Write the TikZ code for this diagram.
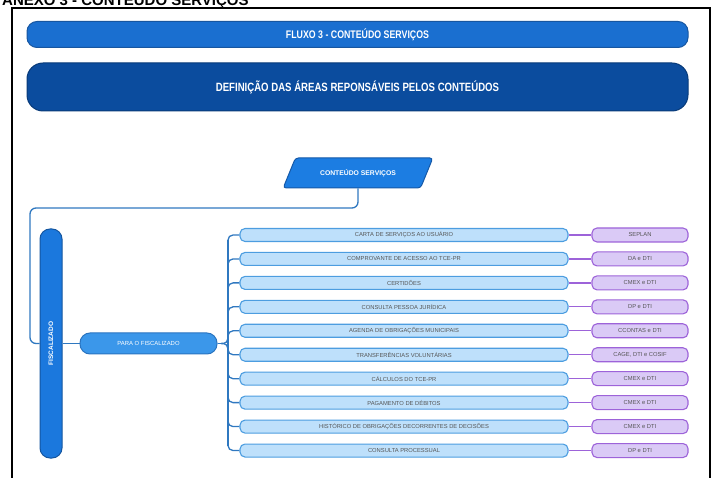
\documentclass[tikz,border=0pt]{standalone}
\usepackage{fontspec}
\setmainfont{Liberation Sans}
\newfontfamily\narrowfont[FakeStretch=0.8]{Liberation Sans}
\usepackage{graphicx}
\usepackage{tikz}
\usetikzlibrary{shapes.geometric}
\definecolor{fluxofill}{HTML}{1A6FD0}
\definecolor{fluxodraw}{HTML}{1756A0}
\definecolor{deffill}{HTML}{0B4C9E}
\definecolor{defdraw}{HTML}{083A78}
\definecolor{contfill}{HTML}{1C7DE2}
\definecolor{contdraw}{HTML}{1559A8}
\definecolor{fiscfill}{HTML}{1B78DD}
\definecolor{fiscdraw}{HTML}{1456A0}
\definecolor{parafill}{HTML}{3B97EA}
\definecolor{paradraw}{HTML}{2A74C0}
\definecolor{itemfill}{HTML}{BEE0FB}
\definecolor{itemdraw}{HTML}{4C9DE0}
\definecolor{areafill}{HTML}{DACAF6}
\definecolor{areadraw}{HTML}{9D63D9}
\definecolor{linkblue}{HTML}{2F78C0}
\definecolor{textgray}{HTML}{555555}
\tikzset{
    >=latex,
    link/.style={draw=linkblue, line width=1.3pt},
    arealink/.style={draw=areadraw, line width=1.3pt},
    bar/.style={draw, line width=1pt, rounded corners=10pt, text=white, inner sep=0pt},
    service/.style={draw=itemdraw, fill=itemfill, line width=1.1pt, rounded corners=5pt,
        minimum width=328pt, minimum height=13pt, inner sep=0pt, text=textgray,
        font=\fontsize{5.8}{6}\selectfont},
    area/.style={service, draw=areadraw, fill=areafill, minimum width=96pt, minimum height=14pt},
}

\begin{document}
\begin{tikzpicture}[x=1pt, y=-1pt]
        \useasboundingbox (0,0) rectangle (718,478);
        \node[anchor=base west, inner sep=0pt, font=\fontsize{15}{15}\selectfont\bfseries] (anexo) at (2,6) {ANEXO 3 - CONTEÚDO SERVIÇOS};
        \draw[line width=2pt] (12,8) rectangle (710,490);
        \node[bar, fill=fluxofill, draw=fluxodraw, minimum width=661pt, minimum height=26pt,
            font=\narrowfont\fontsize{11}{11}\selectfont\bfseries] (fluxo) at (357.5,34.5) {FLUXO 3 - CONTEÚDO SERVIÇOS};
        \node[bar, fill=deffill, draw=defdraw, minimum width=661pt, minimum height=48pt, rounded corners=16pt,
            font=\narrowfont\fontsize{12}{12}\selectfont\bfseries] (def) at (357.5,87) {DEFINIÇÃO DAS ÁREAS REPONSÁVEIS PELOS CONTEÚDOS};
        \node[trapezium, trapezium left angle=45, trapezium right angle=135, trapezium stretches=true,
            bar, fill=contfill, draw=contdraw, rounded corners=3pt, minimum width=150pt, minimum height=30pt,
            font=\fontsize{6.8}{7}\selectfont\bfseries] (cont) at (358,173) {CONTEÚDO SERVIÇOS};
        \node[bar, fill=fiscfill, draw=fiscdraw, minimum width=22pt, minimum height=229pt,
            font=\fontsize{6.5}{7}\selectfont\bfseries] (fisc) at (51,343.5) {\rotatebox{90}{FISCALIZADO}};
        \node[bar, fill=parafill, draw=paradraw, minimum width=137pt, minimum height=21pt,
            font=\fontsize{5.9}{6}\selectfont] (para) at (148.5,343.5) {PARA O FISCALIZADO};
        \coordinate (bend) at (30,208);
        \coordinate (fan) at (221,343.5);
        \coordinate (trunk) at (228,343.5);
        \draw[link, rounded corners=6pt] (cont.south) |- (bend) |- (fisc.west);
        \draw[link] (fisc) -- (para);
        \foreach \serv/\resp [count=\i, evaluate={\y=235+23.95*(\i-1)}] in {
            CARTA DE SERVIÇOS AO USUÁRIO/SEPLAN,
            COMPROVANTE DE ACESSO AO TCE-PR/DA e DTI,
            CERTIDÕES/CMEX e DTI,
            CONSULTA PESSOA JURÍDICA/DP e DTI,
            AGENDA DE OBRIGAÇÕES MUNICIPAIS/CCONTAS e DTI,
            TRANSFERÊNCIAS VOLUNTÁRIAS/{CAGE, DTI e COSIF},
            CÁLCULOS DO TCE-PR/CMEX e DTI,
            PAGAMENTO DE DÉBITOS/CMEX e DTI,
            HISTÓRICO DE OBRIGAÇÕES DECORRENTES DE DECISÕES/CMEX e DTI,
            CONSULTA PROCESSUAL/DP e DTI} {
            \node[service] (s\i) at (404,\y) {\serv};
            \node[area] (a\i) at (640,\y) {\resp};
            \draw[arealink] (s\i) -- (a\i);
        }
        \foreach \i [evaluate={\d=(\i<6 ? -10 : 10)}] in {1,...,10}
            \draw[link, rounded corners=5pt] ([yshift=\d pt]trunk |- s\i.west) |- (s\i.west);
        \draw[link] ([yshift=-5pt]trunk |- s1.west) -- ([yshift=5pt]trunk |- s10.west);
        \draw[link] (para) -- (fan);
        \draw[link] (fan) .. controls +(5,0) and +(0,3) .. ([yshift=5pt]trunk);
        \draw[link] (fan) .. controls +(5,0) and +(0,-3) .. ([yshift=-5pt]trunk);
\end{tikzpicture}
\end{document}
